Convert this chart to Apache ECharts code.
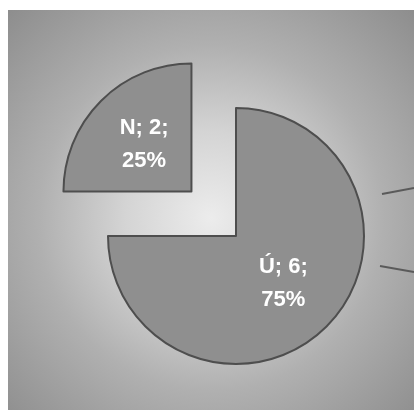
<!DOCTYPE html>
<html>
<head>
<meta charset="utf-8">
<script src="https://cdn.jsdelivr.net/npm/echarts@6/dist/echarts.min.js"></script>
<style>
  html, body { margin: 0; padding: 0; background: #ffffff; }
  #chart { width: 414px; height: 410px; }
</style>
</head>
<body>
<div id="chart"></div>
<script>
// Answer categories and their counts
const categories = ['Ú', 'N'];
const counts = [6, 2];
// The slice pulled out from the pie
const explodedCategory = 'N';

const chart = echarts.init(document.getElementById('chart'), null, { renderer: 'canvas' });

const pieData = categories.map((name, i) => ({
  name: name,
  value: counts[i],
  selected: name === explodedCategory
}));

chart.setOption({
  animation: false,
  backgroundColor: '#ffffff',
  graphic: [
    {
      type: 'rect',
      z: -10,
      shape: { x: 8, y: 10, width: 406, height: 400 },
      style: {
        fill: {
          type: 'radial', x: 0.5, y: 0.52, r: 0.72,
          colorStops: [
            { offset: 0, color: '#ececec' },
            { offset: 0.3, color: '#d4d4d4' },
            { offset: 0.6, color: '#b0b0b0' },
            { offset: 1, color: '#8e8e8e' }
          ]
        }
      }
    },
    {
      type: 'line',
      shape: { x1: 382, y1: 194, x2: 414, y2: 188 },
      style: { stroke: '#5a5a5a', lineWidth: 2 }
    },
    {
      type: 'line',
      shape: { x1: 380, y1: 266, x2: 414, y2: 272 },
      style: { stroke: '#5a5a5a', lineWidth: 2 }
    }
  ],
  series: [{
    type: 'pie',
    center: [236, 236],
    radius: 128,
    startAngle: 90,
    clockwise: true,
    selectedMode: 'single',
    selectedOffset: 63,
    emphasis: { disabled: true },
    itemStyle: {
      color: '#8f8f8f',
      borderColor: '#4e4e4e',
      borderWidth: 2
    },
    label: {
      show: true,
      position: 'inside',
      formatter: '{b}; {c};\n{d}%',
      color: '#ffffff',
      fontFamily: 'Liberation Sans, Arial, sans-serif',
      fontWeight: 'bold',
      fontSize: 22,
      lineHeight: 33,
      align: 'center'
    },
    labelLine: { show: false },
    data: pieData
  }]
});
</script>
</body>
</html>
